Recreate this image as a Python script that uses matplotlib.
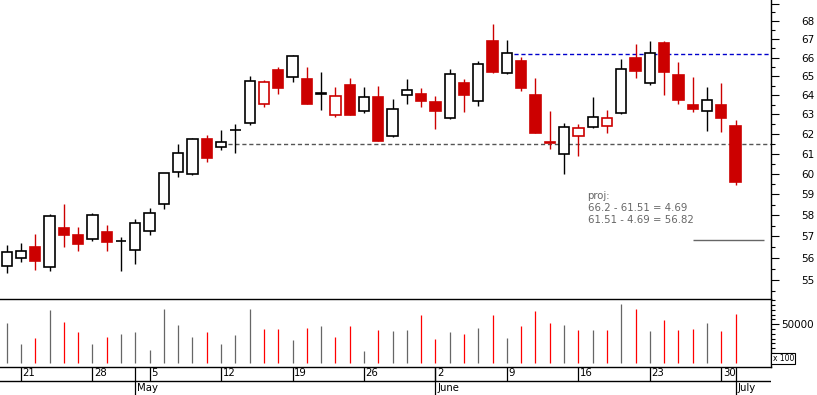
import numpy as np
import matplotlib
matplotlib.use('Agg')
import matplotlib.pyplot as plt
from matplotlib.ticker import FixedLocator, NullFormatter, MultipleLocator

# daily candles, 17 Apr .. 1 Jul (one entry per trading day)
opens = [55.62, 55.99, 56.51, 55.58, 57.40, 57.05, 56.87, 57.21, 56.77, 56.36,
         57.24, 58.52, 60.09, 59.98, 61.73, 61.32, 62.18, 62.54, 63.53, 65.34,
         64.95, 64.84, 64.04, 62.98, 64.52, 63.16, 63.91, 61.91, 64.00, 64.06,
         63.65, 62.80, 64.65, 63.68, 66.91, 65.16, 65.82, 64.01, 61.60, 61.00,
         61.88, 62.34, 62.39, 63.06, 65.97, 64.63, 66.80, 65.07, 63.49, 63.16,
         63.48, 62.40]
highs = [56.60, 56.69, 57.11, 58.06, 58.54, 57.44, 58.11, 57.54, 56.96, 57.82,
         58.35, 60.05, 61.49, 61.78, 61.94, 62.20, 62.50, 65.02, 64.80, 65.50,
         66.15, 65.49, 65.22, 64.43, 64.91, 64.43, 64.48, 63.80, 64.86, 64.36,
         63.94, 65.37, 64.84, 65.81, 67.85, 66.97, 66.04, 64.91, 63.17, 62.56,
         62.50, 63.89, 63.23, 65.93, 66.75, 66.91, 66.91, 65.77, 64.96, 64.43,
         64.65, 62.71]
lows = [55.30, 55.79, 55.47, 55.42, 56.52, 56.34, 56.80, 56.34, 55.38, 55.74,
        57.08, 58.31, 59.86, 59.96, 60.60, 61.20, 61.05, 62.46, 63.40, 64.08,
        64.71, 63.54, 63.24, 62.88, 62.95, 63.09, 61.64, 61.86, 63.56, 63.40,
        62.27, 62.78, 63.14, 63.45, 65.16, 65.14, 64.24, 62.04, 61.25, 60.01,
        60.90, 62.32, 62.06, 63.04, 64.89, 64.56, 64.01, 63.56, 63.14, 62.16,
        62.11, 59.47]
closes = [56.26, 56.31, 55.88, 57.95, 57.08, 56.66, 57.99, 56.75, 56.77, 57.62,
          58.09, 60.03, 61.02, 61.73, 60.80, 61.58, 62.18, 64.75, 64.68, 64.40,
          66.08, 63.56, 64.12, 63.94, 62.98, 63.89, 61.66, 63.26, 64.26, 63.71,
          63.19, 65.11, 64.03, 65.65, 65.25, 66.24, 64.40, 62.06, 61.56, 62.36,
          62.30, 62.88, 62.83, 65.37, 65.30, 66.24, 65.25, 63.77, 63.30, 63.73,
          62.83, 59.62]
volumes = [52000, 24300, 32100, 68600, 53000, 40000, 24300, 33500, 37400, 40000,
           16500, 69900, 49100, 33500, 40000, 24300, 36100, 69900, 43900, 43900,
           29600, 45200, 47800, 33500, 47800, 15200, 42600, 41300, 42600, 62100,
           30900, 40000, 37400, 45200, 62100, 32100, 47800, 67300, 51700, 49100,
           42600, 42600, 42600, 76400, 69900, 41300, 55600, 42600, 43900, 51700,
           41300, 63400]

week_idx = [1, 6, 10, 15, 20, 25, 30, 35, 40, 45, 50]
week_lbl = ['21', '28', '5', '12', '19', '26', '2', '9', '16', '23', '30']
month_idx = [9, 30, 51]
month_lbl = ['May', 'June', 'July']

resist = 66.2
support = 61.51
target = support - (resist - support)

o = np.array(opens)
h = np.array(highs)
l = np.array(lows)
c = np.array(closes)
v = np.array(volumes)
x = np.arange(len(c))

# red when close is below previous close, filled when close below open
prev = np.r_[c[0], c[:-1]]
down = c < prev
col = np.where(down, '#cc0000', 'black')
fill = np.where(c < o, col, 'white')
vcol = np.where(down, '#ff0000', '#666666')

W, H = 817, 395
fig = plt.figure(figsize=(W / 100, H / 100), dpi=100)
right = 771 / W
ax = fig.add_axes([0, (H - 299.3) / H, right, 299.3 / H])
axv = fig.add_axes([0, (H - 366.7) / H, right, 67.4 / H])
axd = fig.add_axes([0, 0, right, (H - 366.7) / H])

xlim = (-0.47, 53.48)

# price panel
ax.set_yscale('log')
ax.vlines(x, l, h, colors=col, lw=1.0, zorder=2)
ax.bar(x, np.abs(c - o), bottom=np.minimum(o, c), width=0.72,
       color=fill, edgecolor=col, linewidth=1.2, zorder=3)

ax.hlines(support, 15, xlim[1], colors='#555555', lw=1.0,
          linestyles=(0, (3, 2)), zorder=1)
ax.hlines(resist, 35, xlim[1], colors='#0000cc', lw=1.0,
          linestyles=(0, (3, 2)), zorder=1)
ax.hlines(target, 48, 53, colors='#666666', lw=1.0, zorder=1)

txt = 'proj:\n%s - %s = %.2f\n%s - %.2f = %.2f' % (
    resist, support, resist - support, support, resist - support, target)
ax.text(0.762, 0.362, txt, transform=ax.transAxes, ha='left', va='top',
        fontsize=7.3, color='#666666', linespacing=1.25)

ax.set_xlim(*xlim)
ax.set_ylim(54.13, 69.2)
for s in ['top', 'left', 'bottom']:
    ax.spines[s].set_visible(False)
ax.spines['right'].set_linewidth(1.0)
ax.set_xticks([])
ax.yaxis.tick_right()
ax.yaxis.set_major_locator(FixedLocator(np.arange(55, 70)))
ax.yaxis.set_minor_locator(FixedLocator(np.arange(54.5, 69.0, 1.0)))
ax.yaxis.set_minor_formatter(NullFormatter())
ax.set_yticks(np.arange(55, 70), [str(p) for p in range(55, 69)] + [''])
ax.tick_params(axis='y', which='major', direction='out', length=5.8,
               width=0.8, pad=25.2, labelsize=7.5)
ax.tick_params(axis='y', which='minor', direction='out', length=2.9, width=0.8)
for t in ax.get_yticklabels():
    t.set_horizontalalignment('right')

# volume panel
axv.vlines(x, 0, v, colors=vcol, lw=0.9)
axv.set_xlim(*xlim)
axv.set_ylim(-5200, 82500)
axv.spines['left'].set_visible(False)
for s in ['top', 'bottom', 'right']:
    axv.spines[s].set_linewidth(1.0)
axv.set_xticks([])
axv.yaxis.tick_right()
axv.set_yticks([50000], ['50000'])
axv.yaxis.set_minor_locator(MultipleLocator(6250))
axv.tick_params(axis='y', which='major', direction='out', length=5.8,
                width=0.8, pad=25.2, labelsize=7.5)
axv.tick_params(axis='y', which='minor', direction='out', length=2.9, width=0.8)
for t in axv.get_yticklabels():
    t.set_horizontalalignment('right')
axv.text(1.002, 0.06, 'x 100', transform=axv.transAxes, ha='left', va='bottom',
         fontsize=5.5, clip_on=False,
         bbox=dict(boxstyle='square,pad=0.15', fc='white', ec='black', lw=0.8))

# date band
axd.set_xlim(*xlim)
axd.set_ylim(0, 1)
axd.axis('off')
axd.axhline(0.505, color='black', lw=1.0)
tr = axd.get_xaxis_transform()
axd.vlines(week_idx, 0.505, 1, colors='black', lw=0.9, transform=tr)
axd.vlines(month_idx, 0, 1, colors='black', lw=0.9, transform=tr)
for i, s in zip(week_idx, week_lbl):
    axd.annotate(s, (i, 0.76), xycoords=tr, xytext=(1.2, 0),
                 textcoords='offset points', ha='left', va='center',
                 fontsize=7.3)
for i, s in zip(month_idx, month_lbl):
    axd.annotate(s, (i, 0.24), xycoords=tr, xytext=(1.2, 0),
                 textcoords='offset points', ha='left', va='center',
                 fontsize=7.3)

fig.savefig('out.png', dpi=100)
